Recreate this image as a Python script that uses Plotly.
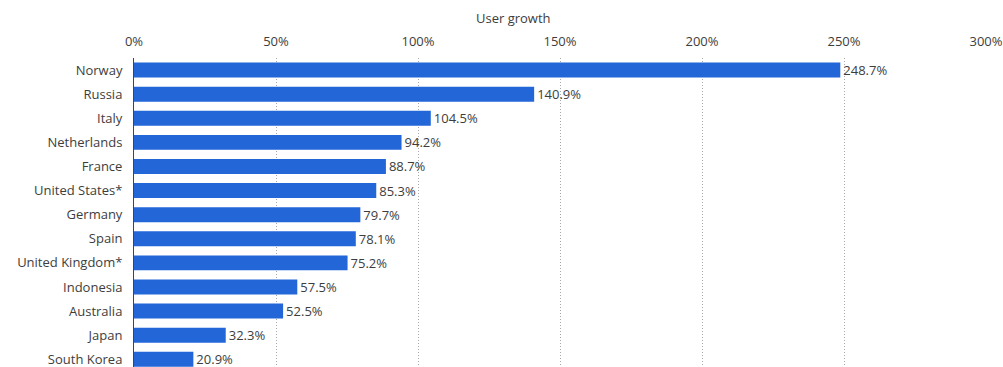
import plotly.graph_objects as go

countries = ["Norway", "Russia", "Italy", "Netherlands", "France", "United States*",
             "Germany", "Spain", "United Kingdom*", "Indonesia", "Australia", "Japan",
             "South Korea"]
growth = [248.7, 140.9, 104.5, 94.2, 88.7, 85.3, 79.7, 78.1, 75.2, 57.5, 52.5, 32.3, 20.9]
tick_vals = [0, 50, 100, 150, 200, 250, 300]
tick_text = ["0%", "50%", "100%", "150%", "200%", "250%", "300%"]

W, H = 1003, 367
ML, MR, MT, MB = 134, 17, 58, 0
font = "Open Sans, Noto Sans, sans-serif"
txt = "#3d3d3d"

fig = go.Figure(go.Bar(
    x=growth,
    y=countries,
    orientation="h",
    marker=dict(color="#2266d8", line=dict(width=0)),
    text=[f"{v:.1f}%" for v in growth],
    textposition="outside",
    constraintext="none",
    textfont=dict(family=font, size=13, color=txt),
    outsidetextfont=dict(family=font, size=13, color=txt),
    cliponaxis=False,
))

fig.update_layout(
    width=W, height=H,
    margin=dict(l=ML, r=MR, t=MT, b=MB, pad=0),
    paper_bgcolor="white", plot_bgcolor="white",
    bargap=0.38,
    showlegend=False,
    uniformtext=dict(minsize=13, mode="show"),
    font=dict(family=font, size=13, color=txt),
    xaxis=dict(
        side="top", range=[0, 300], tickvals=tick_vals, ticktext=tick_text,
        showgrid=True, gridcolor="#a8a8a8", griddash="1px,2px", gridwidth=1,
        zeroline=False, showline=False, ticks="", ticklen=0,
        ticklabelstandoff=8,
        tickfont=dict(family=font, size=13, color=txt),
    ),
    yaxis=dict(
        type="category", categoryorder="array", categoryarray=countries,
        range=[12.32, -0.5], showgrid=False, zeroline=False,
        showline=True, linecolor="#444444", linewidth=1,
        ticks="", ticklabelstandoff=8,
        tickfont=dict(family=font, size=13, color=txt),
    ),
    annotations=[dict(
        text="User growth", xref="paper", yref="paper",
        x=(513 - ML) / (W - ML - MR), y=1, yshift=MT - 18,
        xanchor="center", yanchor="middle", showarrow=False,
        font=dict(family=font, size=13, color=txt),
    )],
)

fig.write_html("out.html")
